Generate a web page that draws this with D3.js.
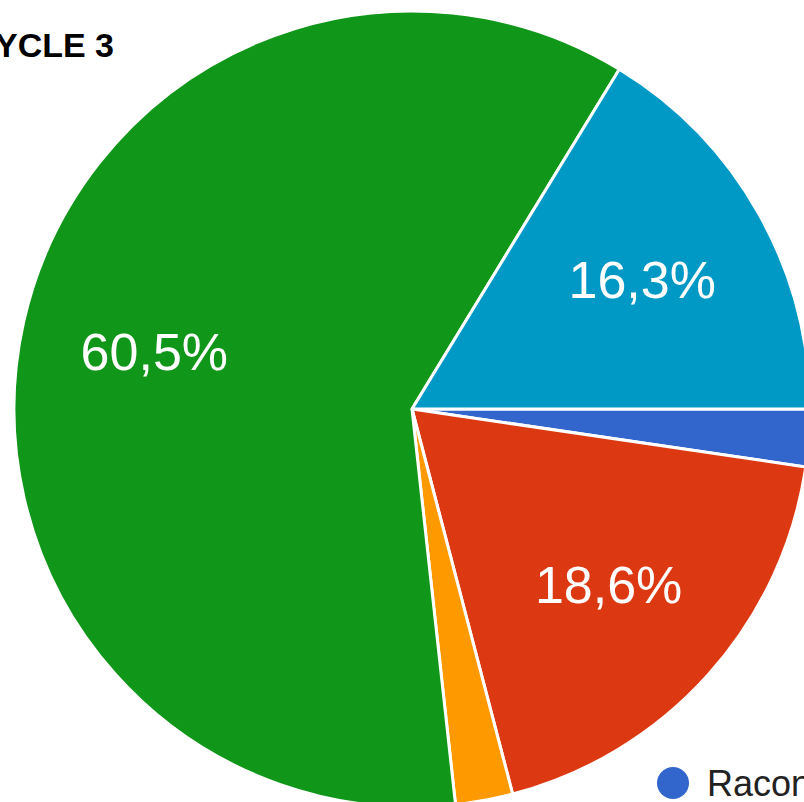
<!DOCTYPE html>
<html>
<head>
<meta charset="utf-8">
<script src="https://cdn.jsdelivr.net/npm/d3@7"></script>
<style>
  html, body { margin: 0; padding: 0; background: #fff; overflow: hidden; }
  svg { display: block; font-family: "Liberation Sans", Arial, sans-serif; }
</style>
</head>
<body>
<div id="root"></div>
<script>
// data (43 answers)
var categories = ["Raconter", "Réponse 2", "Réponse 3", "Réponse 4", "Réponse 5"];
var values = [1, 8, 1, 26, 7];
var colors = ["#3366cc", "#dc3912", "#ff9900", "#109618", "#0099c6"];
var title = "CYCLE 3";

var width = 804, height = 802;
var cx = 412, cy = 409, radius = 398;

var svg = d3.select("#root")
  .append("svg")
  .attr("width", width)
  .attr("height", height);

// title, partly cut by the left edge like in the screenshot
svg.append("text")
  .attr("x", 114)
  .attr("y", 57)
  .attr("text-anchor", "end")
  .attr("font-size", 34)
  .attr("font-weight", "bold")
  .attr("fill", "#000")
  .text(title);

var total = d3.sum(values);

var pie = d3.pie()
  .sort(null)
  .startAngle(Math.PI / 2)
  .endAngle(Math.PI / 2 + 2 * Math.PI);

var arc = d3.arc().innerRadius(0).outerRadius(radius);
var labelArc = d3.arc().innerRadius(264).outerRadius(264);

var g = svg.append("g")
  .attr("transform", "translate(" + cx + "," + cy + ")");

var slices = pie(values);

g.selectAll("path")
  .data(slices)
  .enter()
  .append("path")
    .attr("d", arc)
    .attr("fill", function (d, i) { return colors[i]; })
    .attr("stroke", "#fff")
    .attr("stroke-width", 3)
    .attr("stroke-linejoin", "round");

var fmt = function (v) {
  return (v / total * 100).toFixed(1).replace(".", ",") + "%";
};

g.selectAll("text.lbl")
  .data(slices.filter(function (d) { return d.value / total > 0.05; }))
  .enter()
  .append("text")
    .attr("class", "lbl")
    .attr("x", function (d) { return labelArc.centroid(d)[0]; })
    .attr("y", function (d) { return labelArc.centroid(d)[1] + 18; })
    .attr("text-anchor", "middle")
    .attr("font-size", 52)
    .attr("fill", "#fff")
    .text(function (d) { return fmt(d.value); });

// legend, cut by the bottom right corner
var legend = svg.append("g");
legend.append("circle")
  .attr("cx", 673)
  .attr("cy", 783)
  .attr("r", 16)
  .attr("fill", colors[0]);
legend.append("text")
  .attr("x", 707)
  .attr("y", 796)
  .attr("font-size", 36)
  .attr("fill", "#222")
  .text(categories[0]);
</script>
</body>
</html>
